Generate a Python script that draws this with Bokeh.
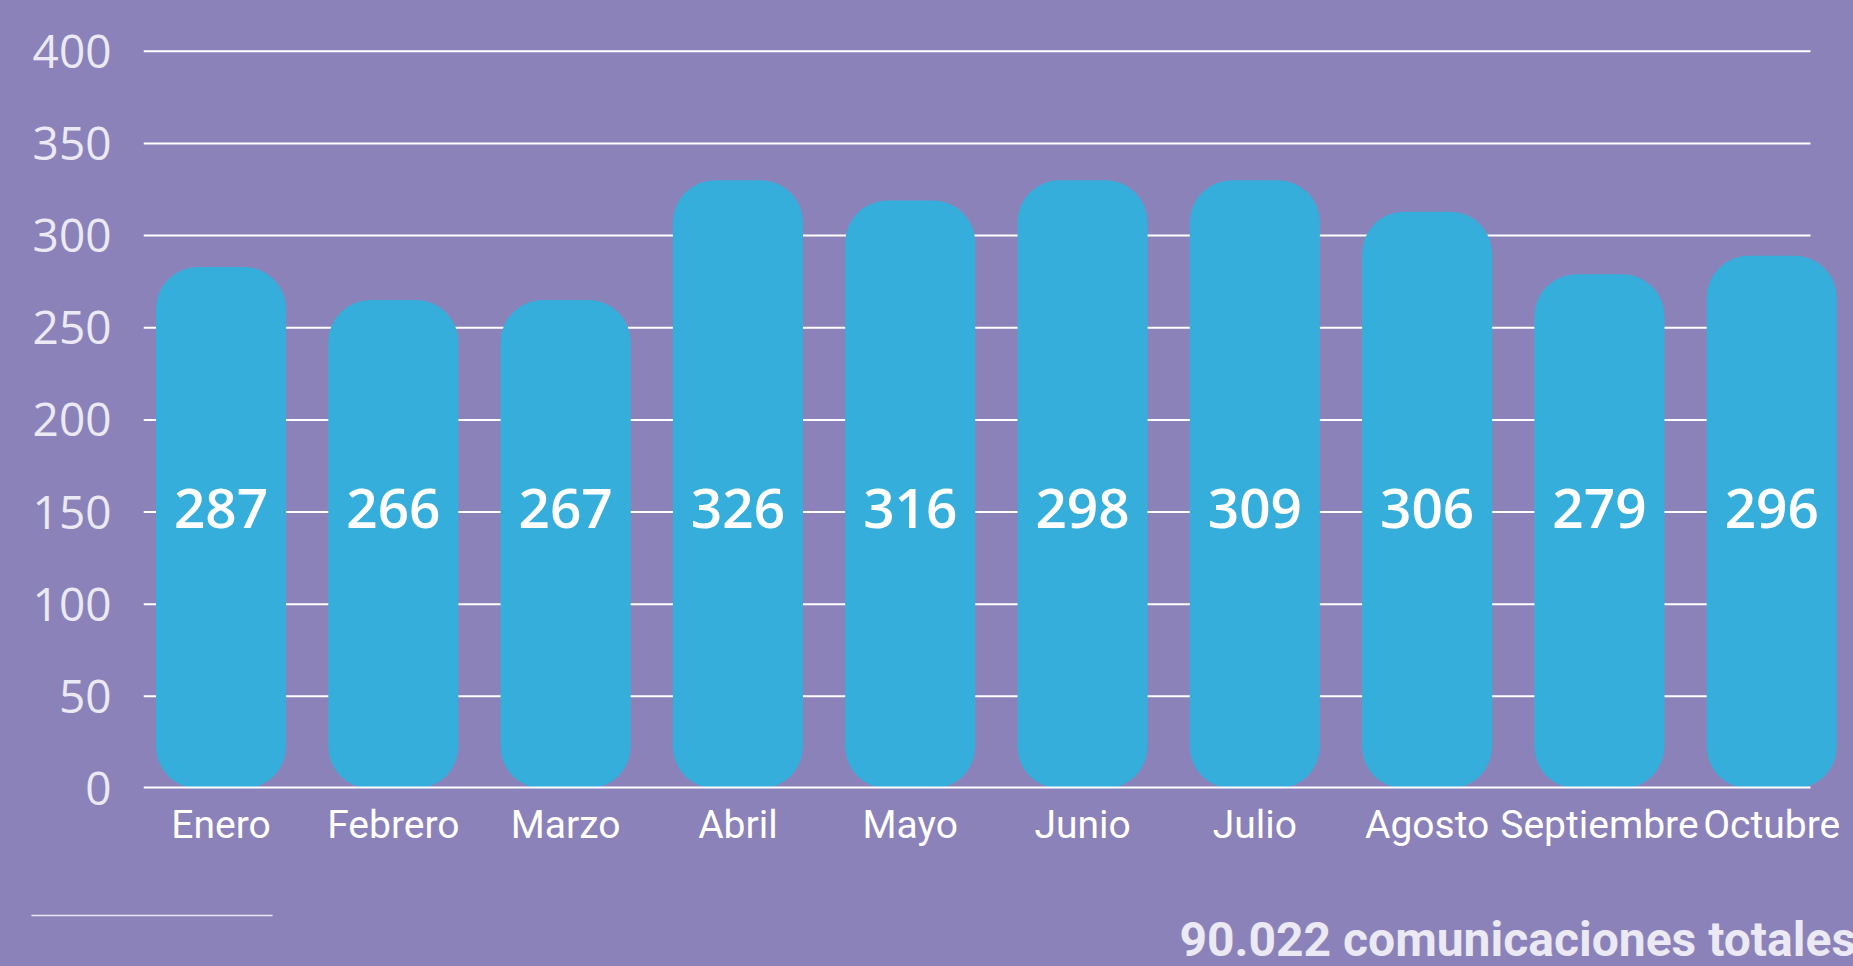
from bokeh.plotting import figure
from bokeh.models import FixedTicker, Range1d, ColumnDataSource
from bokeh.layouts import column
from bokeh.embed import file_html
from bokeh.resources import INLINE
from bokeh.core.properties import value

# ---- data ----
months = ["Enero", "Febrero", "Marzo", "Abril", "Mayo", "Junio", "Julio",
          "Agosto", "Septiembre", "Octubre"]
bar_values = [283, 265, 265, 330, 319, 330, 330, 313, 279, 289]
bar_labels = [287, 266, 267, 326, 316, 298, 309, 306, 279, 296]
y_ticks = [0, 50, 100, 150, 200, 250, 300, 350, 400]
total_text = "90.022 comunicaciones totales"

# ---- style ----
BG = "#8c82ba"
BAR = "#36aedb"
TICK = "#ebe9f4"
W = 1853
H_MAIN = 870
H_FOOT = 96
FRAME_LEFT = 143
FRAME_TOP = 20
FRAME_BOTTOM = 788
PX_PER_UNIT_Y = 1.843
PX_PER_CAT = 172.3
X_START = -0.45
LABEL_Y = 152

idx = list(range(len(months)))
x_end = X_START + (W - FRAME_LEFT) / PX_PER_CAT
y_end = (FRAME_BOTTOM - FRAME_TOP) / PX_PER_UNIT_Y

p = figure(width=W, height=H_MAIN, output_backend="svg", toolbar_location=None,
           tools="", x_range=Range1d(X_START, x_end), y_range=Range1d(0, y_end),
           min_border_left=FRAME_LEFT, min_border_right=0, min_border_top=FRAME_TOP,
           min_border_bottom=H_MAIN - FRAME_BOTTOM)
p.background_fill_color = BG
p.border_fill_color = BG
p.outline_line_color = None
p.grid.visible = False
p.styles = {"background-color": BG}
p.frame_align = False

# gridlines
grid_end = (len(months) - 1) + 0.225
gy = [t for t in y_ticks if t != 0]
p.segment(x0=[X_START] * len(gy), x1=[grid_end] * len(gy), y0=gy, y1=gy,
          line_color="white", line_width=2)

src = ColumnDataSource(dict(x=idx, top=bar_values,
                            lab=[str(v) for v in bar_labels],
                            ly=[LABEL_Y] * len(idx)))
p.vbar(x="x", top="top", bottom=0, width=0.755, source=src, fill_color=BAR,
       line_color=None, border_radius=42)
p.segment(x0=[X_START], x1=[grid_end], y0=[0], y1=[0], line_color="white",
          line_width=4)
p.text(x="x", y="ly", text="lab", source=src, text_color="white",
       text_font=value("'Open Sans SemiBold', 'Open Sans'"), text_font_size="55px",
       text_align="center", text_baseline="middle")

# axes
p.yaxis.ticker = FixedTicker(ticks=y_ticks)
p.yaxis.axis_line_color = None
p.yaxis.major_tick_line_color = None
p.yaxis.minor_tick_line_color = None
p.yaxis.major_tick_out = 0
p.yaxis.major_tick_in = 0
p.yaxis.minor_tick_out = 0
p.yaxis.major_label_text_font = "Open Sans"
p.yaxis.major_label_text_font_size = "46px"
p.yaxis.major_label_text_color = TICK
p.yaxis.major_label_standoff = 32

p.xaxis.ticker = FixedTicker(ticks=idx)
p.xaxis.major_label_overrides = {i: m for i, m in zip(idx, months)}
p.xaxis.axis_line_color = None
p.xaxis.major_tick_line_color = None
p.xaxis.minor_tick_line_color = None
p.xaxis.major_tick_out = 0
p.xaxis.major_tick_in = 0
p.xaxis.minor_tick_out = 0
p.xaxis.major_label_text_font = "Roboto"
p.xaxis.major_label_text_font_size = "39px"
p.xaxis.major_label_text_color = "white"
p.xaxis.major_label_standoff = 13

# footer
f = figure(width=W, height=H_FOOT, output_backend="svg", toolbar_location=None,
           tools="", x_range=Range1d(0, W), y_range=Range1d(H_FOOT, 0),
           x_axis_type=None, y_axis_type=None, min_border=0)
f.background_fill_color = BG
f.border_fill_color = BG
f.outline_line_color = None
f.grid.visible = False
f.styles = {"background-color": BG}
f.frame_align = False
f.segment(x0=[31], x1=[272], y0=[45], y1=[45], line_color=TICK, line_width=1.5)
f.text(x=[1179], y=[69], text=[total_text], text_color=TICK,
       text_font=value("Roboto"), text_font_style="bold", text_font_size="48px",
       text_align="left", text_baseline="middle")

layout = column(p, f, spacing=0)
layout.styles = {"background-color": BG}
open("out.html", "w").write(file_html(layout, INLINE))
